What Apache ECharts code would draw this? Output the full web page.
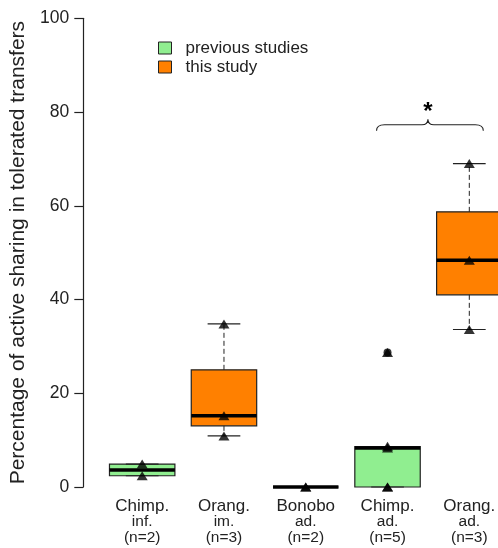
<!DOCTYPE html>
<html>
<head>
<meta charset="utf-8">
<script src="https://cdn.jsdelivr.net/npm/echarts@6/dist/echarts.min.js"></script>
<style>
html,body{margin:0;padding:0;background:#fff;overflow:hidden;width:498px;height:548px;}
#chart{width:511px;height:548px;}
</style>
</head>
<body>
<div id="chart"></div>
<script>
// ---- data ----
const species = ['Chimp.', 'Orang.', 'Bonobo', 'Chimp.', 'Orang.'];
const ages = ['inf.', 'im.', 'ad.', 'ad.', 'ad.'];
const sampleSizes = [2, 3, 2, 5, 3];
const categories = species.map((s, i) => s + '\n' + ages[i] + '\n(n=' + sampleSizes[i] + ')');

const yTicks = [0, 20, 40, 60, 80, 100];

// box statistics per category: [lowWhisker, q1, median, q3, highWhisker]
const lowWhisker = [2.4, 10.9, 0, 0, 33.6];
const q1 = [2.4, 13.05, 0, 0, 41.0];
const median = [3.65, 15.2, 0, 8.3, 48.4];
const q3 = [4.9, 25.0, 0, 8.6, 58.7];
const highWhisker = [4.9, 34.8, 0, 8.6, 69.0];

// which categories belong to each study group
const previousStudies = [0, 2, 3];
const thisStudy = [1, 4];

// individual observations (triangles)
const observations = [
  [2.4, 4.9],
  [10.9, 15.2, 34.8],
  [0, 0],
  [0, 0, 8.3, 8.7, 28.7],
  [33.6, 48.4, 69.0]
];
// outliers (drawn as filled circles)
const outlierCat = [3];
const outlierVal = [28.7];

// significance bracket
const sigFrom = [3];
const sigTo = [4];
const sigLevel = [77.3];
const sigLabel = ['*'];

// ---- build chart ----
const green = '#90EE90';
const orange = '#FF8000';
const ink = '#222';

function boxData(idx) {
  return idx.map(i => [i, lowWhisker[i], q1[i], median[i], q3[i], highWhisker[i]]);
}

function renderBox(params, api) {
  const x = api.value(0);
  const bw = api.size([1, 0])[0] * 0.8;
  const cx = api.coord([x, 0])[0];
  const yLow = api.coord([x, api.value(1)])[1];
  const yQ1 = api.coord([x, api.value(2)])[1];
  const yMed = api.coord([x, api.value(3)])[1];
  const yQ3 = api.coord([x, api.value(4)])[1];
  const yHigh = api.coord([x, api.value(5)])[1];
  const fill = api.visual('color');
  const dash = { stroke: ink, lineWidth: 1, lineDash: [5, 3] };
  const solid = { stroke: ink, lineWidth: 1.2 };
  return {
    type: 'group',
    children: [
      { type: 'rect', shape: { x: cx - bw / 2, y: yQ3, width: bw, height: yQ1 - yQ3 },
        style: { fill: fill, stroke: ink, lineWidth: 1.2 } },
      { type: 'line', shape: { x1: cx, y1: yQ3, x2: cx, y2: yHigh }, style: dash },
      { type: 'line', shape: { x1: cx, y1: yQ1, x2: cx, y2: yLow }, style: dash },
      { type: 'line', shape: { x1: cx - bw / 4, y1: yHigh, x2: cx + bw / 4, y2: yHigh }, style: solid },
      { type: 'line', shape: { x1: cx - bw / 4, y1: yLow, x2: cx + bw / 4, y2: yLow }, style: solid },
      { type: 'line', shape: { x1: cx - bw / 2, y1: yMed, x2: cx + bw / 2, y2: yMed },
        style: { stroke: '#000', lineWidth: 3.5 } }
    ]
  };
}

function renderBrace(params, api) {
  const a = api.value(0), b = api.value(1), v = api.value(2);
  const xl = api.coord([a, v])[0] - 11;
  const xr = api.coord([b, v])[0] + 14;
  const yh = api.coord([a, v])[1];
  const xm = (xl + xr) / 2 - 2;
  const ye = yh + 6, yt = yh - 5.5;
  const path = 'M' + xl + ',' + ye + ' Q' + xl + ',' + yh + ' ' + (xl + 8) + ',' + yh +
    ' L' + (xm - 6) + ',' + yh + ' Q' + xm + ',' + yh + ' ' + xm + ',' + yt +
    ' Q' + xm + ',' + yh + ' ' + (xm + 6) + ',' + yh +
    ' L' + (xr - 8) + ',' + yh + ' Q' + xr + ',' + yh + ' ' + xr + ',' + ye;
  return {
    type: 'group',
    children: [
      { type: 'path', shape: { pathData: path }, style: { fill: null, stroke: ink, lineWidth: 1.1 } },
      { type: 'text', x: xm, y: yh - 12, style: { text: sigLabel[params.dataIndex], fill: '#000',
        font: 'bold 24px "Liberation Sans", Arial, sans-serif', align: 'center', verticalAlign: 'middle' } }
    ]
  };
}

const pointData = [];
observations.forEach((vals, i) => vals.forEach(v => pointData.push([i, v])));

const chart = echarts.init(document.getElementById('chart'), null, { renderer: 'canvas' });
chart.setOption({
  animation: false,
  backgroundColor: '#fff',
  textStyle: { fontFamily: '"Liberation Sans", Arial, sans-serif' },
  grid: { left: 101.3, right: 0.8, top: 18.3, bottom: 61, containLabel: false },
  legend: {
    orient: 'vertical', left: 158, top: 39, padding: 0,
    data: ['previous studies', 'this study'],
    icon: 'rect', itemWidth: 13, itemHeight: 12, itemGap: 1,
    itemStyle: { borderColor: ink, borderWidth: 1 },
    textStyle: { fontSize: 17, color: ink, lineHeight: 18, padding: [0, 0, 0, 9] },
    selectedMode: false
  },
  xAxis: {
    type: 'category', data: categories,
    axisLine: { show: false }, axisTick: { show: false }, splitLine: { show: false },
    axisLabel: {
      interval: 0, margin: 12,
      formatter: function (val, idx) {
        return '{a|' + species[idx] + '}\n{b|' + ages[idx] + '}\n{b|(n=' + sampleSizes[idx] + ')}';
      },
      rich: {
        a: { fontSize: 17, lineHeight: 15, color: ink },
        b: { fontSize: 15.5, lineHeight: 15.5, color: ink }
      }
    }
  },
  yAxis: {
    type: 'value', min: 0, max: 100, interval: 20, offset: 18,
    name: 'Percentage of active sharing in tolerated transfers',
    nameLocation: 'middle', nameGap: 48,
    nameTextStyle: { fontSize: 21, color: ink },
    axisLine: { show: true, lineStyle: { color: ink, width: 1.2 } },
    axisTick: { show: true, length: 9, lineStyle: { color: ink, width: 1.2 } },
    axisLabel: { fontSize: 17.5, color: ink, margin: 14,
      formatter: v => yTicks.indexOf(v) >= 0 ? String(v) : '' },
    splitLine: { show: false }
  },
  series: [
    { name: 'previous studies', type: 'custom', renderItem: renderBox,
      itemStyle: { color: green }, data: boxData(previousStudies), z: 2 },
    { name: 'this study', type: 'custom', renderItem: renderBox,
      itemStyle: { color: orange }, data: boxData(thisStudy), z: 2 },
    { name: 'outliers', type: 'scatter', symbol: 'circle', symbolSize: 8,
      itemStyle: { color: '#000' }, data: outlierCat.map((c, i) => [c, outlierVal[i]]), z: 3 },
    { name: 'observations', type: 'scatter', symbol: 'triangle', symbolSize: [11, 9],
      itemStyle: { color: '#000' }, data: pointData, z: 4 },
    { name: 'significance', type: 'custom', renderItem: renderBrace,
      data: sigFrom.map((f, i) => [f, sigTo[i], sigLevel[i]]), z: 5 }
  ]
});
</script>
</body>
</html>
